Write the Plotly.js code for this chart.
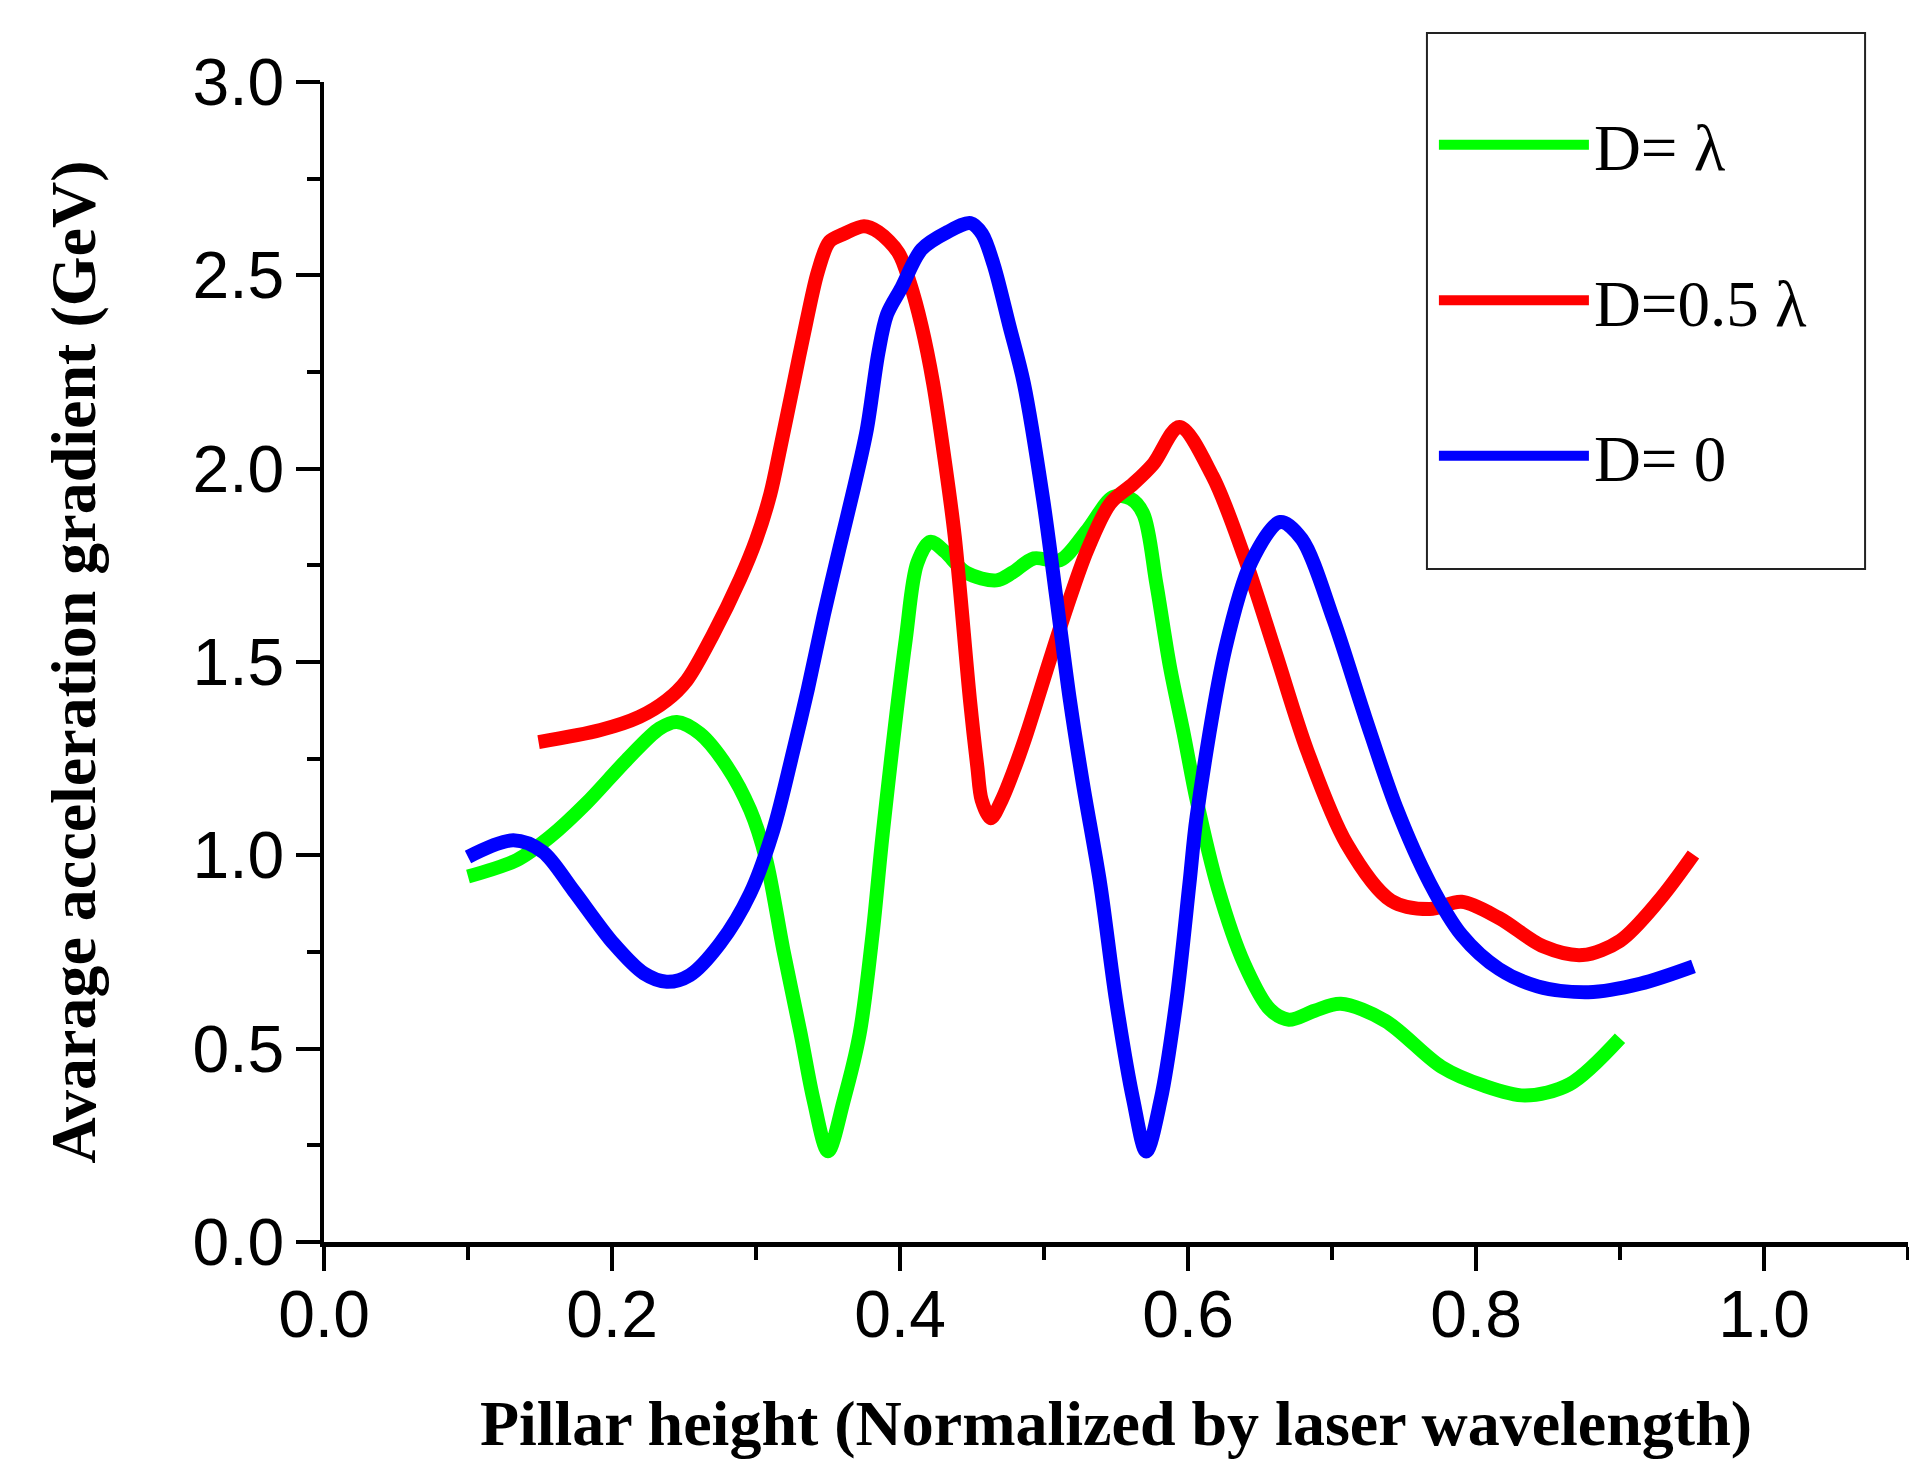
<!DOCTYPE html>
<html>
<head>
<meta charset="utf-8">
<script src="https://cdn.plot.ly/plotly-3.0.1.min.js"></script>
<style>
  html, body { margin: 0; padding: 0; background: #fff; }
  #chart { width: 1909px; height: 1467px; }
</style>
</head>
<body>
<div id="chart"></div>
<script>
// Pillar height (normalized by laser wavelength)
const xGreen = [0.100,0.134,0.157,0.182,0.210,0.233,0.245,0.261,0.280,0.296,0.307,0.319,0.331,0.340,0.350,0.361,0.372,0.381,0.388,0.404,0.412,0.421,0.431,0.446,0.467,0.478,0.493,0.511,0.530,0.548,0.560,0.569,0.578,0.5875,0.597,0.606,0.621,0.639,0.657,0.670,0.688,0.706,0.737,0.776,0.805,0.834,0.865,0.900];
const yGreen = [0.945,0.988,1.048,1.134,1.246,1.328,1.345,1.315,1.229,1.117,0.990,0.755,0.539,0.367,0.235,0.367,0.539,0.798,1.056,1.559,1.756,1.811,1.786,1.731,1.711,1.731,1.768,1.763,1.841,1.927,1.923,1.883,1.703,1.487,1.315,1.143,0.913,0.720,0.601,0.575,0.598,0.616,0.572,0.453,0.405,0.379,0.408,0.527];

const xRed = [0.149,0.192,0.219,0.238,0.252,0.270,0.289,0.300,0.310,0.317,0.325,0.335,0.343,0.351,0.361,0.375,0.385,0.399,0.407,0.415,0.423,0.431,0.438,0.4486,0.4537,0.4567,0.463,0.4706,0.4799,0.488,0.504,0.516,0.530,0.546,0.562,0.576,0.594,0.617,0.639,0.661,0.683,0.710,0.741,0.768,0.790,0.816,0.847,0.874,0.900,0.927,0.951];
const yRed = [1.293,1.324,1.358,1.401,1.453,1.570,1.715,1.815,1.935,2.056,2.200,2.380,2.510,2.587,2.607,2.627,2.612,2.558,2.479,2.369,2.221,2.023,1.825,1.401,1.229,1.143,1.096,1.143,1.229,1.315,1.505,1.643,1.789,1.910,1.961,2.013,2.108,1.981,1.773,1.522,1.269,1.031,0.883,0.861,0.880,0.838,0.764,0.742,0.779,0.883,1.002];

const xBlue = [0.100,0.1315,0.152,0.173,0.201,0.222,0.238,0.254,0.275,0.296,0.312,0.326,0.336,0.347,0.358,0.368,0.377,0.385,0.391,0.401,0.415,0.433,0.449,0.457,0.465,0.476,0.486,0.4995,0.5088,0.518,0.527,0.539,0.550,0.562,0.571,0.581,0.592,0.601,0.606,0.626,0.644,0.664,0.679,0.701,0.723,0.745,0.768,0.790,0.816,0.843,0.878,0.914,0.951];
const yBlue = [0.996,1.039,1.009,0.910,0.772,0.695,0.673,0.690,0.772,0.902,1.065,1.272,1.430,1.620,1.795,1.950,2.102,2.300,2.399,2.468,2.567,2.612,2.635,2.607,2.528,2.369,2.221,1.918,1.660,1.401,1.186,0.927,0.626,0.367,0.234,0.367,0.626,0.927,1.100,1.536,1.759,1.862,1.818,1.610,1.358,1.120,0.928,0.794,0.706,0.661,0.646,0.668,0.713];

const seriesNames = ['D= \u03bb', 'D=0.5 \u03bb', 'D= 0'];
const seriesColors = ['#00ff00', '#ff0000', '#0000ff'];

const serif = '"Times New Roman", "Liberation Serif", serif';
const sans = 'Arial, "Liberation Sans", sans-serif';

const xs = [xGreen, xRed, xBlue];
const ys = [yGreen, yRed, yBlue];

const traces = xs.map((x, i) => ({
  x: x,
  y: ys[i],
  type: 'scatter',
  mode: 'lines',
  name: seriesNames[i],
  legendgroup: 'g' + i,
  line: { color: seriesColors[i], width: 14, shape: 'spline', smoothing: 0.9 },
  hoverinfo: 'skip'
}));

const axisCommon = {
  showgrid: false,
  zeroline: false,
  showline: true,
  linecolor: '#000',
  linewidth: 4.5,
  ticks: 'outside',
  ticklen: 24,
  tickwidth: 4,
  tickcolor: '#000',
  tickfont: { family: sans, size: 66, color: '#000' },
  fixedrange: true
};

const layout = {
  width: 1909,
  height: 1467,
  margin: { l: 324, r: 1, t: 82, b: 225, pad: 0 },
  paper_bgcolor: '#fff',
  plot_bgcolor: '#fff',
  showlegend: true,
  xaxis: Object.assign({}, axisCommon, {
    range: [0, 1.1],
    tick0: 0,
    dtick: 0.2,
    tickformat: '.1f',
    ticklabelstandoff: -13,
    minor: { dtick: 0.1, ticks: 'outside', ticklen: 13, tickwidth: 4, tickcolor: '#000', showgrid: false },
    title: {
      text: 'Pillar height (Normalized by laser wavelength)',
      font: { family: serif, size: 64, color: '#000', weight: 'bold' },
      standoff: 52
    }
  }),
  yaxis: Object.assign({}, axisCommon, {
    range: [0, 3],
    tick0: 0,
    dtick: 0.5,
    tickformat: '.1f',
    ticklabelstandoff: -2,
    minor: { dtick: 0.25, ticks: 'outside', ticklen: 13, tickwidth: 4, tickcolor: '#000', showgrid: false },
    title: {
      text: '\u00a0\u00a0Avarage acceleration gradient (GeV)',
      font: { family: serif, size: 64, color: '#000', weight: 'bold' },
      standoff: 77
    }
  }),
  legend: {
    x: 0.7007,
    y: 0.988,
    xanchor: 'left',
    yanchor: 'top',
    bgcolor: 'rgba(0,0,0,0)',
    borderwidth: 0,
    traceorder: 'grouped',
    tracegroupgap: 68,
    itemwidth: 150,
    font: { family: serif, size: 65, color: '#000' }
  },
  shapes: [{
    type: 'rect',
    xref: 'paper', yref: 'paper',
    x0: 0.6963, x1: 0.9729, y0: 0.5802, y1: 1.0422,
    line: { color: '#222', width: 2 },
    fillcolor: 'rgba(0,0,0,0)',
    layer: 'below'
  }]
};

Plotly.newPlot('chart', traces, layout, { staticPlot: true, displayModeBar: false });
</script>
</body>
</html>
